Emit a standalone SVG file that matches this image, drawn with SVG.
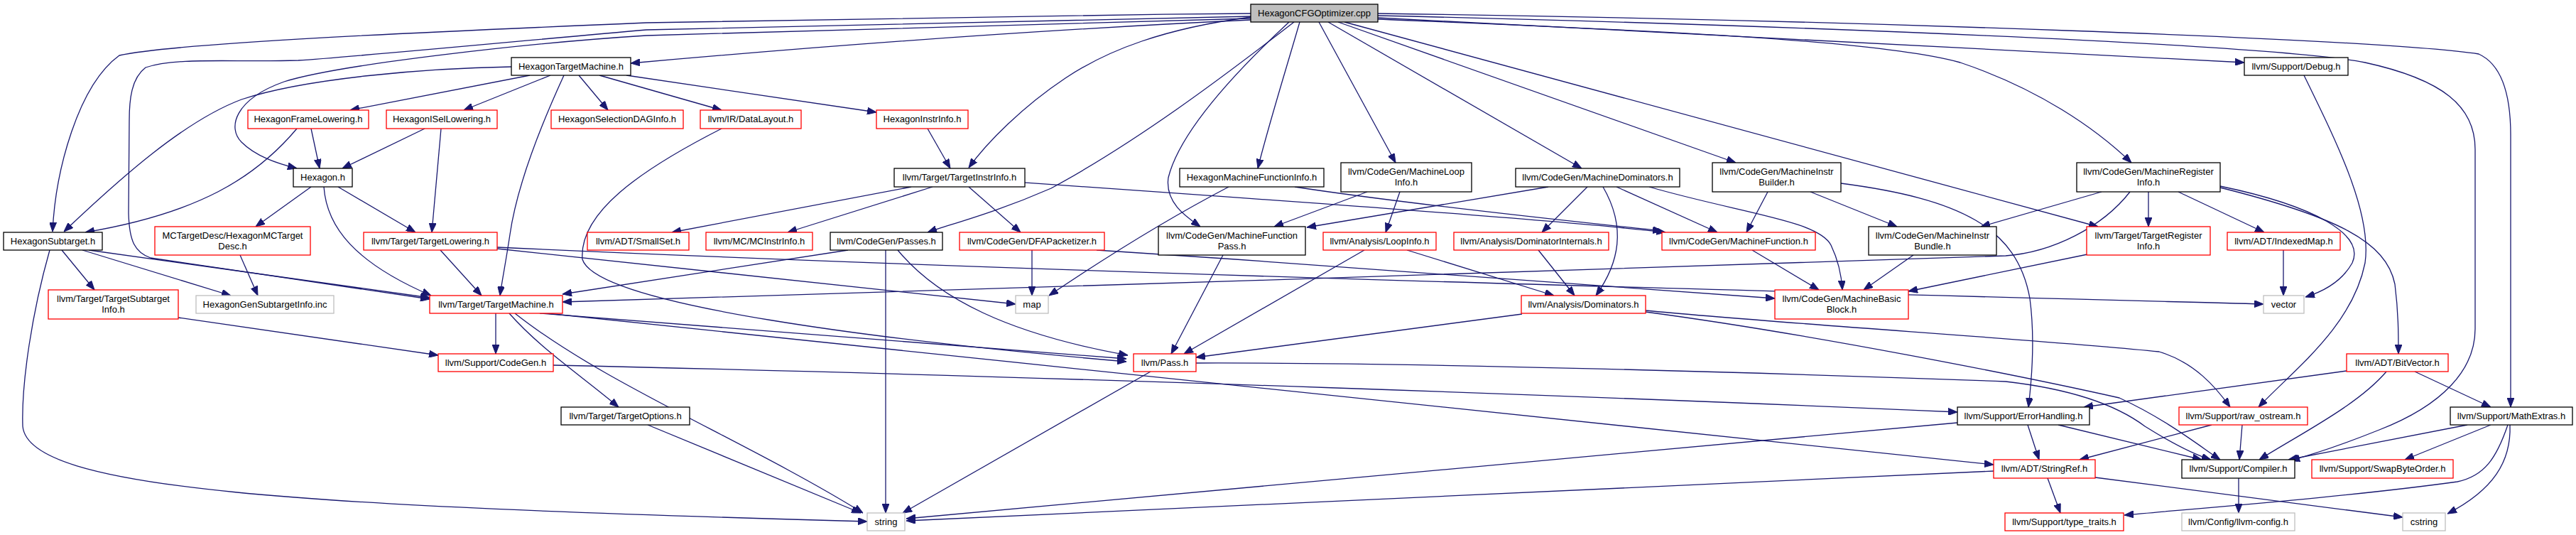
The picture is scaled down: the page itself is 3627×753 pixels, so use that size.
<svg xmlns="http://www.w3.org/2000/svg" width="3627" height="753" viewBox="0 0 3627 753">
<style>
.node rect{fill:#fff;stroke-width:1.3}
.b rect{stroke:#000}
.r rect{stroke:#ff0000}
.g rect{stroke:#bfbfbf}
.root rect{fill:#bfbfbf;stroke:#000}
.node text{font-family:"Liberation Sans",Arial,sans-serif;font-size:13px;text-anchor:middle;fill:#000}
#edges path{fill:none;stroke:#191970;stroke-width:1.3;marker-end:url(#arr)}
</style>
<defs>
<marker id="arr" markerUnits="userSpaceOnUse" markerWidth="13" markerHeight="10" viewBox="0 0 13 10" refX="13" refY="5" orient="auto">
<path d="M0,0 L13,5 L0,10 z" fill="#191970" stroke="#191970" stroke-width="1"/>
</marker>
</defs>
<rect width="3627" height="753" fill="#fff"/>
<g id="edges">
<path d="M1761,28 C1400,45 1100,70 888,89"/>
<path d="M1761,19 C1400,22 1000,28 910,32 C600,45 250,60 168,78 C110,120 78,240 74,326"/>
<path d="M1761,26 C1300,38 1000,45 910,50 C750,60 480,90 400,115 C330,140 320,180 340,200 C360,220 390,230 418,237"/>
<path d="M1761,23 C1300,32 1000,38 910,42 C760,55 500,80 420,85 C330,88 250,80 205,95 C185,110 182,140 182,170 L181,300 C182,340 190,355 212,363 L605,421"/>
<path d="M1761,24 C1640,40 1560,70 1500,110 C1440,150 1390,200 1364,236"/>
<path d="M1822,31 C1720,110 1600,200 1480,265 C1400,300 1340,315 1306,327"/>
<path d="M1830,31 C1810,100 1785,180 1771,237"/>
<path d="M1815,31 C1730,110 1660,190 1645,250 C1640,285 1670,305 1690,319"/>
<path d="M1857,31 L1965,229"/>
<path d="M1870,31 L2227,237"/>
<path d="M1884,31 L2444,229"/>
<path d="M1893,31 L2954,319"/>
<path d="M1940,25 L3160,88"/>
<path d="M1940,27 C2300,42 2640,55 2760,88 C2870,125 2950,180 3001,229"/>
<path d="M1940,22 C2500,35 3200,62 3330,88 C3440,112 3485,150 3485,210 L3485,463 C3485,520 3440,570 3350,605 C3300,625 3255,640 3225,648"/>
<path d="M1940,19 C2600,28 3350,55 3490,76 C3525,92 3535,140 3535,190 L3535,573"/>
<path d="M746,106 L493,155"/>
<path d="M775,106 L653,155"/>
<path d="M815,106 L856,155"/>
<path d="M844,106 L1016,155"/>
<path d="M882,106 L1234,158"/>
<path d="M720,94 C600,96 430,110 340,140 C260,170 170,250 90,326"/>
<path d="M794,106 C760,180 728,260 718,330 C712,370 706,400 704,416"/>
<path d="M438,181 L450,237"/>
<path d="M418,181 C360,250 280,300 120,327"/>
<path d="M598,181 L482,237"/>
<path d="M621,181 L608,327"/>
<path d="M438,263 L360,319"/>
<path d="M476,263 L585,327"/>
<path d="M456,263 C460,320 500,370 607,416"/>
<path d="M1306,181 L1338,237"/>
<path d="M1016,181 C900,240 815,300 820,365 C840,430 1250,480 1586,509"/>
<path d="M1283,263 L946,327"/>
<path d="M1313,263 L1109,327"/>
<path d="M1364,263 L1437,327"/>
<path d="M1443,257 C1800,282 2200,310 2345,327"/>
<path d="M1730,263 C1640,310 1560,360 1477,416"/>
<path d="M1823,263 C2000,290 2250,315 2340,325"/>
<path d="M1925,270 L1794,319"/>
<path d="M1971,270 L1951,327"/>
<path d="M2180,263 L1840,320"/>
<path d="M2235,263 L2171,327"/>
<path d="M2257,263 C2290,320 2280,370 2247,416"/>
<path d="M2276,263 L2418,327"/>
<path d="M2322,263 C2450,300 2560,310 2578,345 C2590,370 2593,390 2594,408"/>
<path d="M2489,270 L2459,327"/>
<path d="M2549,270 L2671,319"/>
<path d="M2592,258 C2760,280 2840,320 2858,420 C2866,480 2860,540 2856,573"/>
<path d="M2959,270 L2789,319"/>
<path d="M3025,270 L3025,319"/>
<path d="M3067,270 L3188,327"/>
<path d="M2999,270 C2960,320 2890,355 2824,360 C2600,372 1200,410 792,425"/>
<path d="M3126,262 C3260,290 3330,330 3312,370 C3298,395 3272,410 3246,418"/>
<path d="M3126,264 C3290,305 3360,340 3372,400 C3377,440 3377,470 3377,498"/>
<path d="M3244,106 C3290,200 3340,300 3330,370 C3312,460 3230,520 3180,573"/>
<path d="M87,352 L133,408"/>
<path d="M116,352 L325,416"/>
<path d="M125,352 L605,419"/>
<path d="M70,352 C45,440 30,540 32,600 C40,690 420,712 1221,734"/>
<path d="M338,359 L363,416"/>
<path d="M620,352 L678,416"/>
<path d="M700,350 L1430,428"/>
<path d="M700,348 C1500,385 2500,410 3187,428"/>
<path d="M1194,352 L792,414"/>
<path d="M1247,352 L1247,722"/>
<path d="M1264,352 C1320,420 1420,470 1588,500"/>
<path d="M1453,352 L1453,416"/>
<path d="M1544,352 C1900,375 2300,405 2499,420"/>
<path d="M1722,359 L1649,498"/>
<path d="M1921,352 L1667,498"/>
<path d="M1981,352 L2188,416"/>
<path d="M2166,352 L2217,416"/>
<path d="M2467,352 L2561,408"/>
<path d="M2694,359 L2624,408"/>
<path d="M2939,358 L2687,410"/>
<path d="M3215,352 L3215,416"/>
<path d="M251,447 L617,500"/>
<path d="M698,441 L698,498"/>
<path d="M717,441 C760,490 820,530 871,573"/>
<path d="M725,441 C850,540 1050,620 1215,722"/>
<path d="M760,441 L1586,505"/>
<path d="M770,441 C1200,490 2000,570 2807,654"/>
<path d="M2143,442 L1684,503"/>
<path d="M2317,437 C2500,455 2900,480 3040,495 C3090,510 3120,545 3140,573"/>
<path d="M2317,439 C2550,470 2850,530 2984,560 C3050,590 3100,630 3126,647"/>
<path d="M1684,511 C2000,510 2500,525 2824,537 C2920,548 2980,570 3020,600 C3060,625 3090,640 3113,647"/>
<path d="M1620,523 L1271,722"/>
<path d="M3304,522 L2934,573"/>
<path d="M3360,523 C3320,570 3240,610 3181,647"/>
<path d="M3400,523 L3507,573"/>
<path d="M779,514 C1500,530 2300,560 2756,580"/>
<path d="M912,598 L1212,722"/>
<path d="M2855,598 L2871,647"/>
<path d="M2898,598 L3100,647"/>
<path d="M2756,595 L1276,730"/>
<path d="M3114,598 L2928,647"/>
<path d="M3157,598 L3153,647"/>
<path d="M3474,598 L3222,647"/>
<path d="M3507,598 L3386,647"/>
<path d="M3531,598 C3515,645 3498,670 3460,678 C3300,700 3100,715 2991,725"/>
<path d="M3534,598 C3536,650 3510,690 3446,723"/>
<path d="M2883,673 L2901,722"/>
<path d="M2950,672 L3383,728"/>
<path d="M2807,663 L1276,733"/>
<path d="M3152,673 L3152,722"/>
</g>
<g id="n_root" class="node root"><rect x="1761" y="6" width="179" height="25"/><text x="1850.5" y="23">HexagonCFGOptimizer.cpp</text></g>
<g id="n_htm" class="node b"><rect x="720" y="81" width="168" height="25"/><text x="804" y="98">HexagonTargetMachine.h</text></g>
<g id="n_dbg" class="node b"><rect x="3160" y="81" width="146" height="25"/><text x="3233" y="98">llvm/Support/Debug.h</text></g>
<g id="n_hfl" class="node r"><rect x="349" y="155" width="170" height="26"/><text x="434" y="172">HexagonFrameLowering.h</text></g>
<g id="n_hisl" class="node r"><rect x="544" y="155" width="156" height="26"/><text x="622" y="172">HexagonISelLowering.h</text></g>
<g id="n_hsdag" class="node r"><rect x="776" y="155" width="186" height="26"/><text x="869" y="172">HexagonSelectionDAGInfo.h</text></g>
<g id="n_dl" class="node r"><rect x="986" y="155" width="142" height="26"/><text x="1057" y="172">llvm/IR/DataLayout.h</text></g>
<g id="n_hii" class="node r"><rect x="1234" y="155" width="129" height="26"/><text x="1298.5" y="172">HexagonInstrInfo.h</text></g>
<g id="n_hex" class="node b"><rect x="413" y="237" width="83" height="26"/><text x="454.5" y="254">Hexagon.h</text></g>
<g id="n_tii" class="node b"><rect x="1259" y="237" width="184" height="26"/><text x="1351" y="254">llvm/Target/TargetInstrInfo.h</text></g>
<g id="n_hmfi" class="node b"><rect x="1661" y="237" width="203" height="26"/><text x="1762.5" y="254">HexagonMachineFunctionInfo.h</text></g>
<g id="n_mli" class="node b"><rect x="1888" y="229" width="184" height="41"/><text x="1980" y="245.5">llvm/CodeGen/MachineLoop</text><text x="1980" y="260.5">Info.h</text></g>
<g id="n_md" class="node b"><rect x="2134" y="237" width="231" height="26"/><text x="2249.5" y="254">llvm/CodeGen/MachineDominators.h</text></g>
<g id="n_mib" class="node b"><rect x="2411" y="229" width="181" height="41"/><text x="2501.5" y="245.5">llvm/CodeGen/MachineInstr</text><text x="2501.5" y="260.5">Builder.h</text></g>
<g id="n_mri" class="node b"><rect x="2924" y="229" width="202" height="41"/><text x="3025" y="245.5">llvm/CodeGen/MachineRegister</text><text x="3025" y="260.5">Info.h</text></g>
<g id="n_hst" class="node b"><rect x="5" y="327" width="139" height="25"/><text x="74.5" y="344">HexagonSubtarget.h</text></g>
<g id="n_mctd" class="node r"><rect x="218" y="319" width="219" height="40"/><text x="327.5" y="335.5">MCTargetDesc/HexagonMCTarget</text><text x="327.5" y="350.5">Desc.h</text></g>
<g id="n_tl" class="node r"><rect x="512" y="327" width="188" height="25"/><text x="606" y="344">llvm/Target/TargetLowering.h</text></g>
<g id="n_ss" class="node r"><rect x="827" y="327" width="143" height="25"/><text x="898.5" y="344">llvm/ADT/SmallSet.h</text></g>
<g id="n_mcii" class="node r"><rect x="994" y="327" width="150" height="25"/><text x="1069" y="344">llvm/MC/MCInstrInfo.h</text></g>
<g id="n_passes" class="node b"><rect x="1169" y="327" width="158" height="25"/><text x="1248" y="344">llvm/CodeGen/Passes.h</text></g>
<g id="n_dfa" class="node r"><rect x="1351" y="327" width="204" height="25"/><text x="1453" y="344">llvm/CodeGen/DFAPacketizer.h</text></g>
<g id="n_mfp" class="node b"><rect x="1631" y="319" width="207" height="40"/><text x="1734.5" y="335.5">llvm/CodeGen/MachineFunction</text><text x="1734.5" y="350.5">Pass.h</text></g>
<g id="n_li" class="node r"><rect x="1863" y="327" width="159" height="25"/><text x="1942.5" y="344">llvm/Analysis/LoopInfo.h</text></g>
<g id="n_di" class="node r"><rect x="2047" y="327" width="218" height="25"/><text x="2156" y="344">llvm/Analysis/DominatorInternals.h</text></g>
<g id="n_mf" class="node r"><rect x="2340" y="327" width="216" height="25"/><text x="2448" y="344">llvm/CodeGen/MachineFunction.h</text></g>
<g id="n_mibun" class="node b"><rect x="2631" y="319" width="180" height="40"/><text x="2721" y="335.5">llvm/CodeGen/MachineInstr</text><text x="2721" y="350.5">Bundle.h</text></g>
<g id="n_tri" class="node r"><rect x="2938" y="319" width="174" height="40"/><text x="3025" y="335.5">llvm/Target/TargetRegister</text><text x="3025" y="350.5">Info.h</text></g>
<g id="n_im" class="node r"><rect x="3136" y="327" width="159" height="25"/><text x="3215.5" y="344">llvm/ADT/IndexedMap.h</text></g>
<g id="n_tsi" class="node r"><rect x="68" y="408" width="183" height="41"/><text x="159.5" y="424.5">llvm/Target/TargetSubtarget</text><text x="159.5" y="439.5">Info.h</text></g>
<g id="n_hgsi" class="node g"><rect x="276" y="416" width="194" height="25"/><text x="373" y="433">HexagonGenSubtargetInfo.inc</text></g>
<g id="n_tm" class="node r"><rect x="605" y="416" width="187" height="25"/><text x="698.5" y="433">llvm/Target/TargetMachine.h</text></g>
<g id="n_map" class="node g"><rect x="1430" y="416" width="46" height="25"/><text x="1453" y="433">map</text></g>
<g id="n_dom" class="node r"><rect x="2142" y="416" width="175" height="25"/><text x="2229.5" y="433">llvm/Analysis/Dominators.h</text></g>
<g id="n_mbb" class="node r"><rect x="2499" y="408" width="188" height="41"/><text x="2593" y="424.5">llvm/CodeGen/MachineBasic</text><text x="2593" y="439.5">Block.h</text></g>
<g id="n_vec" class="node g"><rect x="3187" y="416" width="57" height="25"/><text x="3215.5" y="433">vector</text></g>
<g id="n_cg" class="node r"><rect x="617" y="498" width="162" height="25"/><text x="698" y="515">llvm/Support/CodeGen.h</text></g>
<g id="n_pass" class="node r"><rect x="1596" y="498" width="88" height="25"/><text x="1640" y="515">llvm/Pass.h</text></g>
<g id="n_bv" class="node r"><rect x="3304" y="498" width="143" height="25"/><text x="3375.5" y="515">llvm/ADT/BitVector.h</text></g>
<g id="n_to" class="node b"><rect x="790" y="573" width="181" height="25"/><text x="880.5" y="590">llvm/Target/TargetOptions.h</text></g>
<g id="n_eh" class="node b"><rect x="2756" y="573" width="186" height="25"/><text x="2849" y="590">llvm/Support/ErrorHandling.h</text></g>
<g id="n_ro" class="node r"><rect x="3068" y="573" width="181" height="25"/><text x="3158.5" y="590">llvm/Support/raw_ostream.h</text></g>
<g id="n_me" class="node b"><rect x="3450" y="573" width="172" height="25"/><text x="3536" y="590">llvm/Support/MathExtras.h</text></g>
<g id="n_sr" class="node r"><rect x="2807" y="647" width="143" height="26"/><text x="2878.5" y="664">llvm/ADT/StringRef.h</text></g>
<g id="n_comp" class="node b"><rect x="3072" y="647" width="159" height="26"/><text x="3151.5" y="664">llvm/Support/Compiler.h</text></g>
<g id="n_sbo" class="node r"><rect x="3255" y="647" width="199" height="26"/><text x="3354.5" y="664">llvm/Support/SwapByteOrder.h</text></g>
<g id="n_str" class="node g"><rect x="1221" y="722" width="53" height="25"/><text x="1247.5" y="739">string</text></g>
<g id="n_tt" class="node r"><rect x="2823" y="722" width="167" height="25"/><text x="2906.5" y="739">llvm/Support/type_traits.h</text></g>
<g id="n_cfg" class="node g"><rect x="3072" y="722" width="159" height="25"/><text x="3151.5" y="739">llvm/Config/llvm-config.h</text></g>
<g id="n_cstr" class="node g"><rect x="3383" y="722" width="60" height="25"/><text x="3413" y="739">cstring</text></g>
</svg>
